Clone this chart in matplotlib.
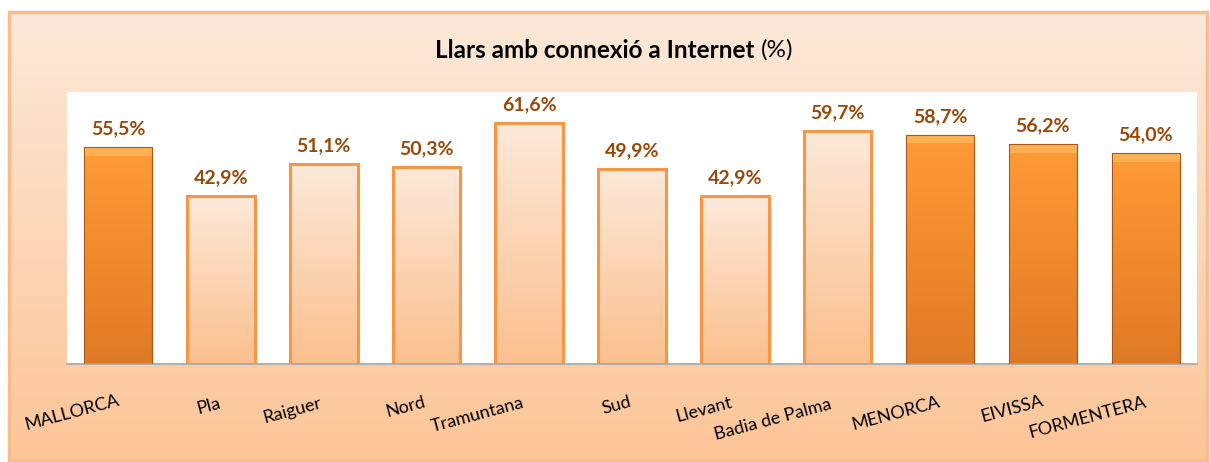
import numpy as np
import matplotlib.pyplot as plt
from matplotlib.colors import LinearSegmentedColormap
from matplotlib.patches import Rectangle

plt.rcParams['font.family'] = ['Lato', 'DejaVu Sans']

# data
categories = ['MALLORCA', 'Pla', 'Raiguer', 'Nord', 'Tramuntana', 'Sud',
              'Llevant', 'Badia de Palma', 'MENORCA', 'EIVISSA', 'FORMENTERA']
values = [55.5, 42.9, 51.1, 50.3, 61.6, 49.9, 42.9, 59.7, 58.7, 56.2, 54.0]
islands = ['MALLORCA', 'MENORCA', 'EIVISSA', 'FORMENTERA']

# label placement (Excel staggered the axis labels)
lab_dx = [-0.45, -0.12, -0.31, -0.20, -0.50, -0.15, -0.30, -0.63, -0.43, -0.30, -0.57]
lab_dy = [49, 42, 47, 43, 51, 41, 46, 56, 49, 45, 54]

W, H = 1210, 462
fig = plt.figure(figsize=(W / 100, H / 100), dpi=100)

# outer frame with vertical gradient
bg = fig.add_axes([9 / W, 2 / H, 1198 / W, 448 / H])
frame_cmap = LinearSegmentedColormap.from_list('frame', ['#fde9d9', '#fcc597'])
bg.imshow(np.linspace(0, 1, 256).reshape(-1, 1), aspect='auto', cmap=frame_cmap,
          extent=(0, 1, 0, 1), origin='upper')
bg.add_patch(Rectangle((0, 0), 1, 1, transform=bg.transAxes, fill=False,
                       edgecolor='#f9bc8a', lw=2.5, clip_on=False))
bg.set_xlim(0, 1)
bg.set_ylim(0, 1)
bg.axis('off')

ax = fig.add_axes([67 / W, (H - 364) / H, 1130 / W, 272 / H])
ax.set_facecolor('white')

light_cmap = LinearSegmentedColormap.from_list('light', ['#fde9d9', '#fbc08e'])
dark_cmap = LinearSegmentedColormap.from_list('dark', ['#ff9b38', '#f08a2c', '#de7a26'])

x = np.arange(len(categories))
bars = ax.bar(x, values, width=0.66, color='none', zorder=3)
for b, cat in zip(bars, categories):
    x0, y0, w, h = b.get_x(), b.get_y(), b.get_width(), b.get_height()
    grad = np.linspace(0, 1, 256).reshape(-1, 1)
    if cat in islands:
        img = ax.imshow(grad, aspect='auto', cmap=dark_cmap, extent=(x0, x0 + w, y0, y0 + h),
                        origin='upper', zorder=2)
        img.set_clip_path(b)
        # bevel highlight on top
        ax.add_patch(Rectangle((x0, y0 + h - 2.2), w, 2.2, facecolor='#ffc46a',
                               edgecolor='none', alpha=0.55, zorder=2.5))
        b.set_edgecolor('#a9561a')
        b.set_linewidth(0.8)
    else:
        img = ax.imshow(grad, aspect='auto', cmap=light_cmap, extent=(x0, x0 + w, y0, y0 + h),
                        origin='upper', zorder=2)
        img.set_clip_path(b)
        b.set_edgecolor('#f79646')
        b.set_linewidth(2.2)

ax.set_xlim(-0.5, len(categories) - 0.5)
ax.set_ylim(0, 69.6)

for i, v in enumerate(values):
    ax.annotate(f'{v:.1f}%'.replace('.', ','), (i, v), xytext=(0, 7), textcoords='offset points',
                ha='center', va='bottom', fontsize=14, fontweight='bold', color='#984807')

for i, cat in enumerate(categories):
    ax.annotate(cat, (i + lab_dx[i], 0), xytext=(0, -lab_dy[i] * 0.72), textcoords='offset points',
                ha='center', va='center', rotation=15, fontsize=13, color='black',
                annotation_clip=False)

for s in ['top', 'right', 'left']:
    ax.spines[s].set_visible(False)
ax.spines['bottom'].set_color('#a6a6a6')
ax.spines['bottom'].set_linewidth(1.2)
ax.set_xticks([])
ax.set_yticks([])

# title: bold part + regular "(%)"
t1 = fig.text(0, 1 - 50 / H, 'Llars amb connexió a Internet ', ha='left', va='center',
              fontsize=17.5, fontweight='bold')
t2 = fig.text(0, 1 - 50 / H, '(%)', ha='left', va='center', fontsize=17.5)
fig.canvas.draw()
r = fig.canvas.get_renderer()
w1 = t1.get_window_extent(r).width
w2 = t2.get_window_extent(r).width
start = 614 - (w1 + w2) / 2
t1.set_x(start / W)
t2.set_x((start + w1) / W)

plt.savefig('out.png', dpi=100)
